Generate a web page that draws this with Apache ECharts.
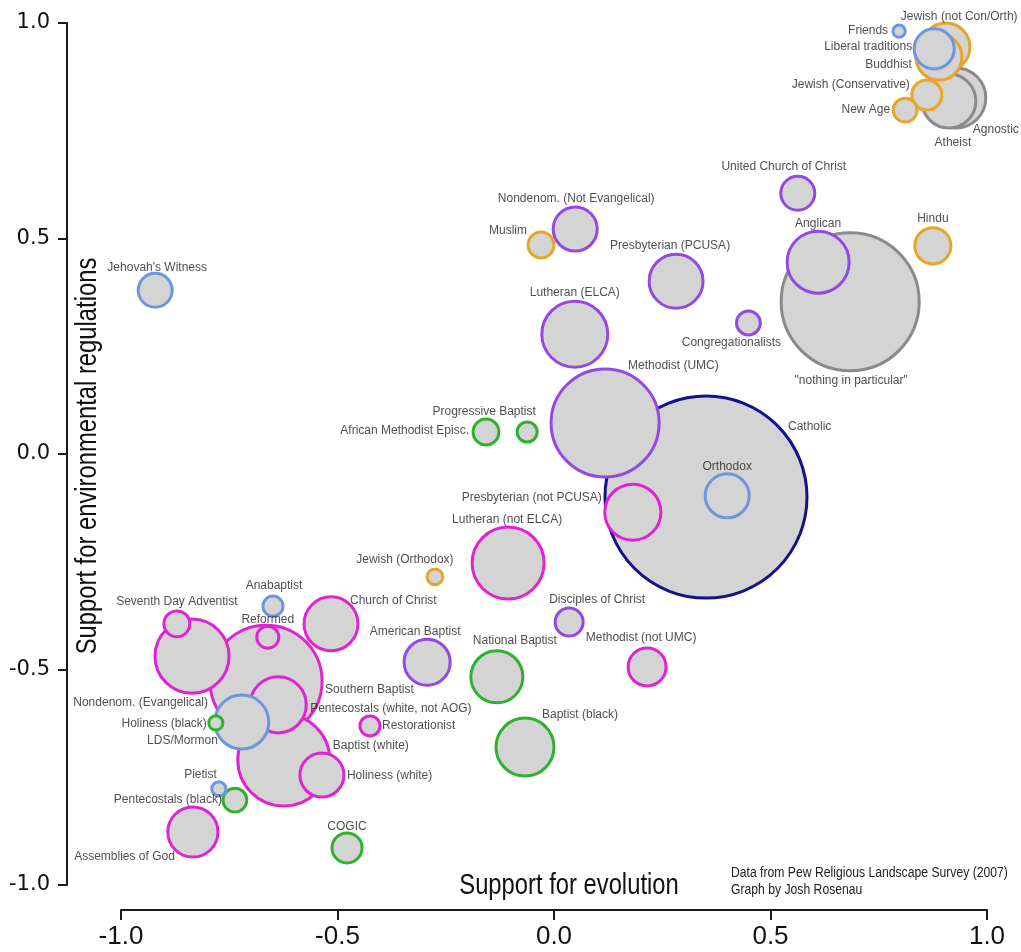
<!DOCTYPE html>
<html>
<head>
<meta charset="utf-8">
<script src="https://cdn.jsdelivr.net/npm/echarts@6/dist/echarts.min.js"></script>
<style>
html, body { margin: 0; padding: 0; background: #fff; }
#main { width: 1021px; height: 952px; }
</style>
</head>
<body>
<div id="main"></div>
<script>
// groups, x = support for evolution, y = support for environmental regulations, share = % of adults
var names = ['Catholic', '"nothing in particular"', 'Southern Baptist', 'Methodist (UMC)', 'Baptist (white)',
  'Nondenom. (Evangelical)', 'Lutheran (not ELCA)', 'Lutheran (ELCA)', 'Anglican', 'Agnostic',
  'Baptist (black)', 'Presbyterian (not PCUSA)', 'Pentecostals (white, not AOG)', 'Presbyterian (PCUSA)', 'Church of Christ',
  'Atheist', 'LDS/Mormon', 'National Baptist', 'Assemblies of God', 'Jewish (not Con/Orth)',
  'American Baptist', 'Buddhist', 'Holiness (white)', 'Nondenom. (Not Evangelical)', 'Orthodox',
  'Liberal traditions', 'Methodist (not UMC)', 'Hindu', 'United Church of Christ', "Jehovah's Witness",
  'Jewish (Conservative)', 'COGIC', 'Disciples of Christ', 'Muslim', 'African Methodist Episc.',
  'Seventh Day Adventist', 'Congregationalists', 'New Age', 'Pentecostals (black)', 'Reformed',
  'Progressive Baptist', 'Restorationist', 'Anabaptist', 'Jewish (Orthodox)', 'Holiness (black)',
  'Pietist', 'Friends'];

var evolution = [0.351, 0.684, -0.665, 0.118, -0.624,
  -0.836, -0.106, 0.048, 0.610, 0.928,
  -0.067, 0.182, -0.637, 0.282, -0.515,
  0.912, -0.721, -0.132, -0.834, 0.905,
  -0.293, 0.889, -0.536, 0.049, 0.400,
  0.878, 0.215, 0.875, 0.563, -0.921,
  0.861, -0.478, 0.035, -0.030, -0.157,
  -0.871, 0.449, 0.811, -0.737, -0.661,
  -0.062, -0.425, -0.649, -0.275, -0.781,
  -0.774, 0.797];

var environment = [-0.100, 0.353, -0.527, 0.072, -0.710,
  -0.469, -0.253, 0.278, 0.445, 0.826,
  -0.680, -0.135, -0.582, 0.401, -0.394,
  0.819, -0.622, -0.517, -0.877, 0.944,
  -0.483, 0.921, -0.745, 0.522, -0.097,
  0.940, -0.494, 0.483, 0.605, 0.380,
  0.833, -0.914, -0.390, 0.485, 0.051,
  -0.394, 0.304, 0.798, -0.803, -0.425,
  0.051, -0.631, -0.353, -0.285, -0.624,
  -0.777, 0.981];

var share = [24.4, 11.39, 7.5, 6.98, 5.06,
  3.28, 3.1, 2.6, 2.3, 2.15,
  2.01, 1.88, 1.88, 1.74, 1.74,
  1.74, 1.74, 1.62, 1.5, 1.38,
  1.27, 1.27, 1.16, 1.16, 1.16,
  0.96, 0.86, 0.78, 0.69, 0.69,
  0.54, 0.54, 0.47, 0.40, 0.40,
  0.40, 0.34, 0.34, 0.34, 0.29,
  0.24, 0.24, 0.24, 0.15, 0.12,
  0.12, 0.09];

var tradition = ['Catholic', 'Unaffiliated', 'Evangelical', 'Mainline', 'Evangelical',
  'Evangelical', 'Evangelical', 'Mainline', 'Mainline', 'Unaffiliated',
  'Black Protestant', 'Evangelical', 'Evangelical', 'Mainline', 'Evangelical',
  'Unaffiliated', 'Other Christian', 'Black Protestant', 'Evangelical', 'Other faiths',
  'Mainline', 'Other faiths', 'Evangelical', 'Mainline', 'Other Christian',
  'Other Christian', 'Evangelical', 'Other faiths', 'Mainline', 'Other Christian',
  'Other faiths', 'Black Protestant', 'Mainline', 'Other faiths', 'Black Protestant',
  'Evangelical', 'Mainline', 'Other faiths', 'Black Protestant', 'Evangelical',
  'Black Protestant', 'Evangelical', 'Other Christian', 'Other faiths', 'Black Protestant',
  'Other Christian', 'Other Christian'];

var tickLabels = ['-1.0', '-0.5', '0.0', '0.5', '1.0'];

var colors = {
  'Evangelical': '#e024d2',
  'Mainline': '#9448e4',
  'Black Protestant': '#2db22d',
  'Catholic': '#12128a',
  'Other Christian': '#6c96de',
  'Other faiths': '#e9a42a',
  'Unaffiliated': '#8a8a8a'
};

// label anchor: [align, dx, dy] from bubble centre
var labelPlace = {
  'Friends': ['right', -11, -1],
  'Jewish (not Con/Orth)': ['left', -45, -30],
  'Liberal traditions': ['right', -22, -2],
  'Buddhist': ['right', -27, 8],
  'Jewish (Conservative)': ['right', -17, -10],
  'New Age': ['right', -15, 0],
  'Agnostic': ['left', 17, 32],
  'Atheist': ['center', 4, 42],
  'United Church of Christ': ['center', -14, -27],
  'Anglican': ['center', 0, -39],
  'Hindu': ['center', 0, -27],
  '"nothing in particular"': ['center', 1, 79],
  'Congregationalists': ['center', -17, 20],
  'Presbyterian (PCUSA)': ['center', -6, -35],
  'Nondenom. (Not Evangelical)': ['center', 1, -30],
  'Muslim': ['right', -14, -14],
  'Lutheran (ELCA)': ['center', 0, -41],
  'Methodist (UMC)': ['left', 23, -57],
  'Catholic': ['left', 82, -70],
  'Orthodox': ['center', 0, -29],
  'Progressive Baptist': ['center', -43, -20],
  'African Methodist Episc.': ['right', -17, -1],
  'Presbyterian (not PCUSA)': ['right', -31, -14],
  'Lutheran (not ELCA)': ['center', -1, -43],
  'Jewish (Orthodox)': ['center', -30, -17],
  "Jehovah's Witness": ['center', 2, -23],
  'Disciples of Christ': ['center', 28, -22],
  'Methodist (not UMC)': ['center', -6, -29],
  'National Baptist': ['center', 18, -36],
  'Baptist (black)': ['left', 17, -32],
  'American Baptist': ['center', -12, -30],
  'Church of Christ': ['left', 19, -23],
  'Restorationist': ['left', 12, 0],
  'Holiness (white)': ['left', 25, 1],
  'Baptist (white)': ['left', 49, -14],
  'Southern Baptist': ['left', 59, 9],
  'Pentecostals (white, not AOG)': ['left', 32, 4],
  'Nondenom. (Evangelical)': ['right', 16, 47],
  'Holiness (black)': ['right', -9, 1],
  'LDS/Mormon': ['right', -24, 19],
  'Seventh Day Adventist': ['center', 0, -22],
  'Anabaptist': ['center', 1, -20],
  'Reformed': ['center', 0, -17],
  'Pietist': ['right', -2, -14],
  'Pentecostals (black)': ['right', -13, 0],
  'Assemblies of God': ['right', -18, 25],
  'COGIC': ['center', 0, -21]
};

var order = names.map(function (n, i) { return i; });
order.sort(function (a, b) { return share[b] - share[a]; });

var bubbles = order.map(function (i) {
  return {
    name: names[i],
    value: [evolution[i], environment[i], share[i]],
    itemStyle: { borderColor: colors[tradition[i]] }
  };
});

var labels = order.map(function (i) {
  var p = labelPlace[names[i]] || ['center', 0, -20];
  return {
    name: names[i],
    value: [evolution[i], environment[i], share[i]],
    label: { align: p[0], offset: [p[1], p[2]] }
  };
});

var chart = echarts.init(document.getElementById('main'));

var axisCommon = {
  type: 'value',
  min: -1,
  max: 1,
  interval: 0.5,
  splitLine: { show: false },
  axisLine: { onZero: false, lineStyle: { color: '#1a1a1a', width: 2 } },
  axisTick: { lineStyle: { color: '#1a1a1a', width: 2 } }
};

var option = {
  animation: false,
  backgroundColor: '#fff',
  grid: { left: 121, right: 34, top: 23, bottom: 67 },
  xAxis: echarts.util.merge({
    offset: 25,
    axisTick: { length: 10 },
    axisLabel: {
      margin: 14,
      fontSize: 26,
      fontFamily: 'Liberation Sans Narrow, Liberation Sans, sans-serif',
      color: '#111',
      formatter: function (v) { return tickLabels[Math.round((v + 1) * 2)]; }
    }
  }, axisCommon),
  yAxis: echarts.util.merge({
    offset: 54,
    axisTick: { length: 9 },
    axisLabel: {
      margin: 17,
      fontSize: 21,
      fontFamily: 'DejaVu Sans, sans-serif',
      color: '#111',
      formatter: function (v) { return tickLabels[Math.round((v + 1) * 2)]; }
    }
  }, axisCommon),
  graphic: [
    {
      type: 'text', x: 569, y: 886,
      style: { text: 'Support for evolution', font: '29px "Liberation Sans"', fill: '#111',
        textAlign: 'center', textVerticalAlign: 'middle' },
      scaleX: 0.82
    },
    {
      type: 'text', x: 88, y: 456, rotation: Math.PI / 2,
      style: { text: 'Support for environmental regulations', font: '29px "Liberation Sans"', fill: '#111',
        textAlign: 'center', textVerticalAlign: 'middle' },
      scaleX: 0.82
    },
    {
      type: 'text', x: 731, y: 873,
      style: { text: 'Data from Pew Religious Landscape Survey (2007)', font: '14px "Liberation Sans"', fill: '#222',
        textAlign: 'left', textVerticalAlign: 'middle' },
      scaleX: 0.87
    },
    {
      type: 'text', x: 731, y: 890,
      style: { text: 'Graph by Josh Rosenau', font: '14px "Liberation Sans"', fill: '#222',
        textAlign: 'left', textVerticalAlign: 'middle' },
      scaleX: 0.87
    }
  ],
  series: [
    {
      type: 'scatter',
      clip: false,
      symbol: 'circle',
      symbolSize: function (val) { return 40.9 * Math.sqrt(val[2]); },
      itemStyle: { color: '#d4d4d4', borderWidth: 3, opacity: 1 },
      emphasis: { disabled: true },
      data: bubbles
    },
    {
      type: 'scatter',
      clip: false,
      silent: true,
      z: 5,
      symbolSize: 1,
      itemStyle: { color: 'rgba(0,0,0,0)' },
      label: {
        show: true,
        position: 'inside',
        verticalAlign: 'middle',
        fontSize: 12,
        fontFamily: 'Liberation Sans, Arial, sans-serif',
        color: '#222',
        formatter: function (p) { return p.name; }
      },
      emphasis: { disabled: true },
      data: labels
    }
  ]
};

chart.setOption(option);
window.addEventListener('resize', function () { chart.resize(); });
</script>
</body>
</html>
